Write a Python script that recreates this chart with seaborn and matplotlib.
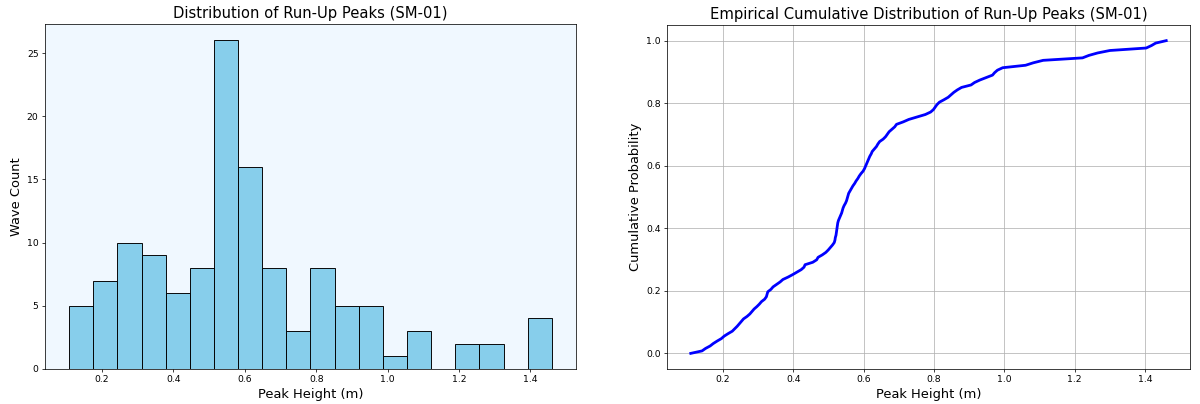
import numpy as np
import pandas as pd
import matplotlib
matplotlib.use("Agg")
import matplotlib.pyplot as plt
import seaborn as sns

# Run-up peak heights (m)
peaks = [
    0.108, 0.140, 0.150, 0.163, 0.172,
    0.183, 0.195, 0.203, 0.214, 0.226, 0.233, 0.240,
    0.246, 0.252, 0.258, 0.268, 0.276, 0.282, 0.288, 0.296, 0.303, 0.309,
    0.318, 0.323, 0.325, 0.327, 0.336, 0.342, 0.352, 0.362, 0.370,
    0.385, 0.398, 0.410, 0.422, 0.430, 0.433,
    0.455, 0.466, 0.470, 0.482, 0.492, 0.499, 0.505, 0.511,
    0.516, 0.518, 0.519, 0.521, 0.522, 0.523, 0.524, 0.525, 0.526, 0.528,
    0.531, 0.534, 0.537, 0.539, 0.541, 0.544, 0.548, 0.551, 0.553, 0.555,
    0.557, 0.561, 0.565, 0.569, 0.574, 0.578,
    0.583, 0.587, 0.592, 0.598, 0.602, 0.605, 0.608, 0.611, 0.614, 0.617,
    0.621, 0.624, 0.630, 0.636, 0.640, 0.645,
    0.655, 0.662, 0.667, 0.672, 0.680, 0.688, 0.693, 0.712,
    0.728, 0.752, 0.775,
    0.790, 0.798, 0.803, 0.808, 0.815, 0.828, 0.840, 0.848,
    0.856, 0.866, 0.878, 0.905, 0.915,
    0.930, 0.948, 0.966, 0.972, 0.980,
    0.995,
    1.060, 1.082, 1.110,
    1.222, 1.240,
    1.265, 1.300,
    1.403, 1.418, 1.430, 1.460,
]

hist_title = "Distribution of Run-Up Peaks (SM-01)"
ecdf_title = "Empirical Cumulative Distribution of Run-Up Peaks (SM-01)"
x_label = "Peak Height (m)"
hist_ylabel = "Wave Count"
ecdf_ylabel = "Cumulative Probability"

df = pd.DataFrame({"peak": peaks})
sorted_peaks = np.sort(df["peak"].values)
ecdf_df = pd.DataFrame({
    "peak": sorted_peaks,
    "prob": np.arange(len(sorted_peaks)) / (len(sorted_peaks) - 1),
})

plt.rcParams['font.family'] = ['DejaVu Sans']
fig, axes = plt.subplots(1, 2, figsize=(18, 6.06))
W, H = 1200.0, 404.0
axes[0].set_position([45 / W, 1 - 369 / H, 531 / W, (369 - 24) / H])
axes[1].set_position([667 / W, 1 - 369 / H, 523 / W, (369 - 25) / H])

ax = axes[0]
ax.set_facecolor("#F0F8FF")
sns.histplot(data=df, x="peak", bins=20, color="skyblue", edgecolor="black",
             alpha=1.0, linewidth=1.0, ax=ax)
ax.set_title(hist_title, fontsize=16)
ax.set_xlabel(x_label, fontsize=14)
ax.set_ylabel(hist_ylabel, fontsize=14)

ax = axes[1]
sns.lineplot(data=ecdf_df, x="peak", y="prob", color="blue", linewidth=3, ax=ax)
ax.set_title(ecdf_title, fontsize=16)
ax.set_xlabel(x_label, fontsize=14)
ax.set_ylabel(ecdf_ylabel, fontsize=14)
ax.grid(True)

fig.savefig("out.png", dpi=1200 / 18)
